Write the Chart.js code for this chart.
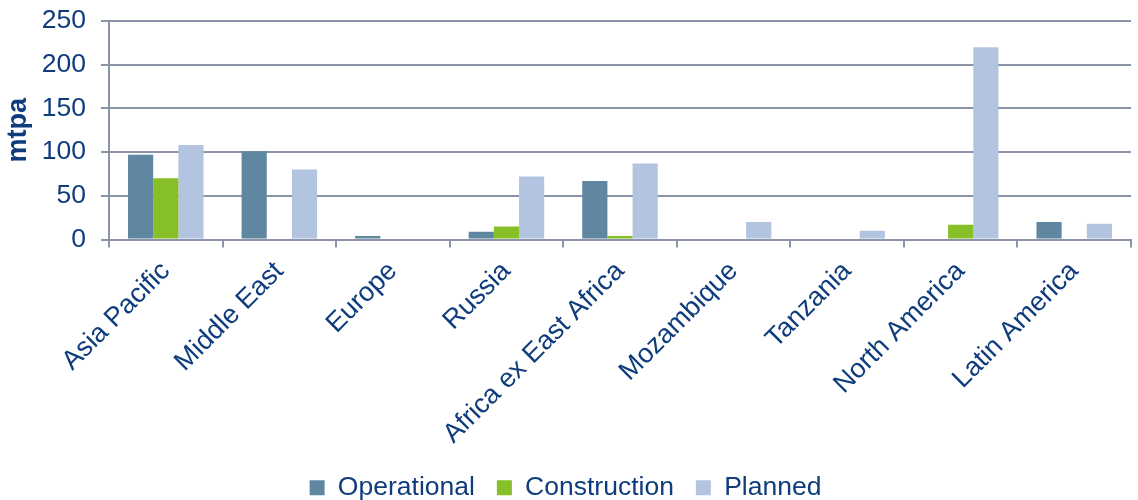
<!DOCTYPE html>
<html>
<head>
  <meta charset="utf-8">
  <title>LNG capacity by region</title>
  <style>
    html, body { margin: 0; padding: 0; background: #fff; }
    .chart-container { width: 1138px; height: 500px; position: relative; }
  </style>
</head>
<body>
  <div class="chart-container">
    <canvas id="capacityChart"></canvas>
  </div>

  <script src="https://cdn.jsdelivr.net/npm/chart.js"></script>
  <script>
    // Kapazitaeten je Region (mtpa)
    const regions = ['Asia Pacific', 'Middle East', 'Europe', 'Russia', 'Africa ex East Africa',
                     'Mozambique', 'Tanzania', 'North America', 'Latin America'];
    const operational  = [97, 101, 4, 9, 67, 0, 0, 0, 20];
    const construction = [70, 0, 0, 15, 4, 0, 0, 17, 0];
    const planned      = [108, 80, 0, 72, 87, 20, 10, 220, 18];
    const yTicks = [0, 50, 100, 150, 200, 250];

    const textColor = '#0E3C7C';
    const gridColor = '#8A93A8';
    const fontFamily = '"Liberation Sans", Arial, sans-serif';

    const ctx = document.getElementById('capacityChart').getContext('2d');
    new Chart(ctx, {
      type: 'bar',
      data: {
        labels: regions,
        datasets: [
          { label: 'Operational',  data: operational,  backgroundColor: '#5F87A1' },
          { label: 'Construction', data: construction, backgroundColor: '#86BF27' },
          { label: 'Planned',      data: planned,      backgroundColor: '#B3C4E1' }
        ]
      },
      options: {
        responsive: true,
        maintainAspectRatio: false,
        animation: false,
        layout: { padding: { top: 21, right: 7, left: 0, bottom: -11 } },
        datasets: {
          bar: { barPercentage: 1, categoryPercentage: 0.665 }
        },
        plugins: {
          legend: {
            position: 'bottom',
            labels: {
              color: textColor,
              font: { family: fontFamily, size: 26.5 },
              boxWidth: 15,
              boxHeight: 15,
              padding: 22
            }
          },
          tooltip: { enabled: false }
        },
        scales: {
          x: {
            afterFit: scale => { scale.height = 213; },
            grid: {
              offset: true,
              drawOnChartArea: false,
              color: gridColor,
              lineWidth: 2,
              tickLength: 8
            },
            border: { color: gridColor, width: 2 },
            ticks: {
              color: textColor,
              font: { family: fontFamily, size: 27 },
              minRotation: 45,
              maxRotation: 45,
              autoSkip: false,
              padding: 8
            }
          },
          y: {
            min: 0,
            max: 250,
            afterBuildTicks: axis => { axis.ticks = yTicks.map(v => ({ value: v })); },
            afterFit: scale => {
              // feste Breite, Randabstand kommt aus layout.padding
              scale.width = 109;
              scale.paddingTop = 0;
              scale.paddingBottom = 0;
            },
            grid: {
              color: gridColor,
              lineWidth: 2,
              tickLength: 8
            },
            border: { color: gridColor, width: 2 },
            ticks: {
              color: textColor,
              font: { family: fontFamily, size: 26.5 },
              padding: 15
            },
            title: {
              display: true,
              text: 'mtpa',
              color: textColor,
              font: { family: fontFamily, size: 27, weight: 'bold' },
              padding: 2
            }
          }
        }
      }
    });
  </script>
</body>
</html>
